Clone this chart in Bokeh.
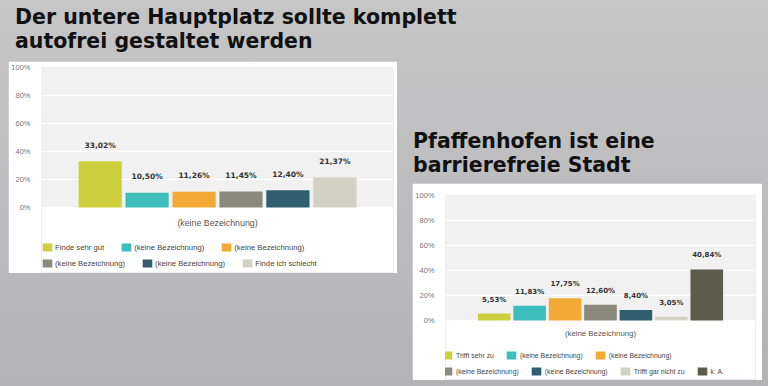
from bokeh.plotting import figure
from bokeh.models import (ColumnDataSource, Range1d, FixedTicker, PrintfTickFormatter,
                          LabelSet, Label, Legend, LegendItem, Div, Spacer, BoxAnnotation,
                          GlobalInlineStyleSheet)
from bokeh.layouts import row, column
from bokeh.core.properties import value
from bokeh.embed import file_html
from bokeh.resources import INLINE

# ---------------- data ----------------
title_left = ["Der untere Hauptplatz sollte komplett", "autofrei gestaltet werden"]
title_right = ["Pfaffenhofen ist eine", "barrierefreie Stadt"]
category = "(keine Bezeichnung)"

left_series = ["Finde sehr gut", "(keine Bezeichnung)", "(keine Bezeichnung)",
               "(keine Bezeichnung)", "(keine Bezeichnung)", "Finde ich schlecht"]
left_values = [33.02, 10.50, 11.26, 11.45, 12.40, 21.37]
left_colors = ["#cbd03c", "#3dbebc", "#f3aa35", "#898a7c", "#2f5f6e", "#d3d1c3"]

right_series = ["Trifft sehr zu", "(keine Bezeichnung)", "(keine Bezeichnung)",
                "(keine Bezeichnung)", "(keine Bezeichnung)", "Trifft gar nicht zu", "k. A."]
right_values = [5.53, 11.83, 17.75, 12.60, 8.40, 3.05, 40.84]
right_colors = ["#cbd03c", "#3dbebc", "#f3aa35", "#898a7c", "#2f5f6e", "#d3d1c3", "#5c5c4c"]

y_ticks = [0, 20, 40, 60, 80, 100]


def make_chart(series, values, colors, W, H, borders, plot_px, below_px, label_size,
               label_offset, tick_size, cat_size, cat_offset, leg_size, leg_standoff,
               leg_spacing, leg_x, leg_y, split):
    n = len(values)
    slot = 0.8 / n
    xs = [(i - (n - 1) / 2) * slot for i in range(n)]
    labels = [f"{v:.2f}".replace(".", ",") + "%" for v in values]
    src = ColumnDataSource(dict(x=xs, top=values, color=colors, label=labels))
    bl, br, bt, bb = borders
    # the frame reaches below the 0% line so that the legend can sit inside it
    y_start = -100.0 * below_px / plot_px
    p = figure(width=W, height=H, x_range=Range1d(-0.5, 0.5), y_range=Range1d(y_start, 100),
               output_backend="svg", toolbar_location=None,
               min_border_left=bl, min_border_right=br, min_border_top=bt, min_border_bottom=bb)
    p.background_fill_color = "white"
    p.border_fill_color = "white"
    p.outline_line_color = None
    p.add_layout(BoxAnnotation(bottom=0, top=100, fill_color="#f1f1f1", fill_alpha=1,
                               line_color=None, level="image"))

    r = p.vbar(x="x", top="top", width=0.92 * slot, fill_color="color",
               line_color=None, source=src)

    p.add_layout(LabelSet(x="x", y="top", text="label", source=src, y_offset=label_offset,
                          text_align="center", text_baseline="middle",
                          text_font=value("DejaVu Sans"), text_font_style="bold",
                          text_font_size=label_size, text_color="#333333"))

    # y axis
    p.yaxis.ticker = FixedTicker(ticks=y_ticks)
    p.yaxis.formatter = PrintfTickFormatter(format="%d%%")
    p.yaxis.axis_line_color = None
    p.yaxis.major_tick_line_color = None
    p.yaxis.minor_tick_line_color = None
    p.yaxis.major_label_text_font = "Liberation Sans"
    p.yaxis.major_label_text_font_size = tick_size
    p.yaxis.major_label_text_color = "#777777"
    p.yaxis.major_label_standoff = 5
    p.ygrid.ticker = FixedTicker(ticks=y_ticks)
    p.ygrid.grid_line_color = "white"
    p.ygrid.grid_line_width = 1
    p.xgrid.grid_line_color = None
    p.xaxis.visible = False

    # category name under the bars
    p.add_layout(Label(x=0, y=0, text=category, y_offset=cat_offset, text_align="center",
                       text_baseline="middle", text_font="Liberation Sans",
                       text_font_size=cat_size, text_color="#555555"))

    rows = [list(range(0, split)), list(range(split, n))]
    for idxs, vy in zip(rows, leg_y):
        items = [LegendItem(label=value(series[i]), renderers=[r], index=i) for i in idxs]
        leg = Legend(items=items, orientation="horizontal", location=(leg_x, vy),
                     glyph_width=12, glyph_height=10, label_height=10,
                     label_standoff=leg_standoff, spacing=leg_spacing, padding=0, margin=0,
                     border_line_color=None, background_fill_alpha=0,
                     label_text_font="Liberation Sans", label_text_font_size=leg_size,
                     label_text_color="#444444")
        p.add_layout(leg, "center")
    return p


left = make_chart(left_series, left_values, left_colors, 389, 212, (33, 4, 6, 1), 140, 65,
                  "7.5px", 16, "7.5px", "8.8px", -15, "7.7px", 2, 16, 0, (20, 4), 3)
right = make_chart(right_series, right_values, right_colors, 350, 197, (30, 7, 12, 1), 125, 59,
                   "7px", 14, "7.5px", "7.8px", -13, "6.9px", 3, 11, -4, (19, 3), 3)

title_style = ("font-family:'DejaVu Sans';font-weight:bold;font-size:20.5px;"
               "line-height:24px;color:#111111;white-space:nowrap;")
div_left = Div(text=f"<div style=\"{title_style}padding:5px 0 0 7px\">"
                    f"{title_left[0]}<br>{title_left[1]}</div>",
               width=389, height=61, margin=0, styles={"overflow": "visible"})
div_right = Div(text=f"<div style=\"{title_style}padding:129px 0 0 1px\">"
                     f"{title_right[0]}<br>{title_right[1]}</div>",
                width=350, height=183, margin=0, styles={"overflow": "visible"})

col_l = column(div_left, left, spacing=0)
col_r = column(div_right, right, spacing=0)
root = row(Spacer(width=8, height=10), col_l, Spacer(width=15, height=10), col_r, spacing=0)
root.stylesheets = [GlobalInlineStyleSheet(css=(
    "html, body {margin:0; padding:0; height:100%; overflow:hidden;"
    "background: linear-gradient(180deg, #c6c6c7 0%, #bcbcbe 55%, #b3b3b5 100%);}"))]

open("out.html", "w").write(file_html(root, INLINE))
